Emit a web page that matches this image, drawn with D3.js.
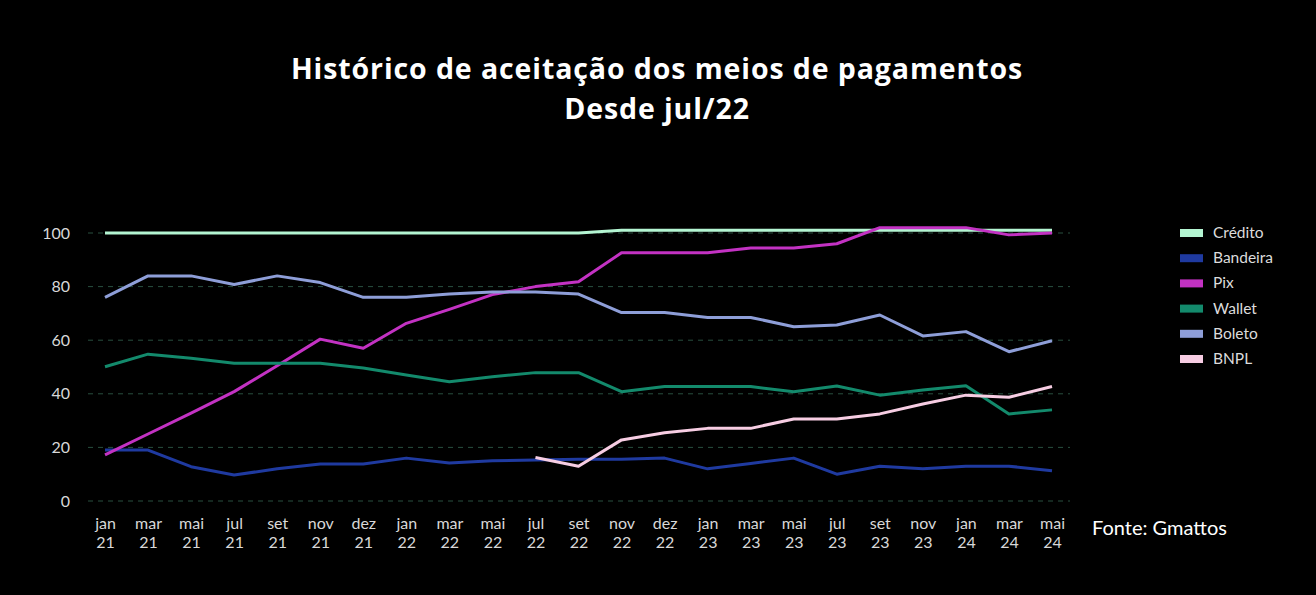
<!DOCTYPE html>
<html>
<head>
<meta charset="utf-8">
<script src="https://cdn.jsdelivr.net/npm/d3@7"></script>
<style>
  body { margin: 0; background: #000; }
  svg { display: block; }
</style>
</head>
<body>
<div id="chart"></div>
<script>
// Data
let months = ['jan', 'mar', 'mai', 'jul', 'set', 'nov', 'dez', 'jan', 'mar', 'mai', 'jul', 'set',
    'nov', 'dez', 'jan', 'mar', 'mai', 'jul', 'set', 'nov', 'jan', 'mar', 'mai'];
let years = ['21', '21', '21', '21', '21', '21', '21', '22', '22', '22', '22', '22',
    '22', '22', '23', '23', '23', '23', '23', '23', '24', '24', '24'];

let credito = [100, 100, 100, 100, 100, 100, 100, 100, 100, 100, 100, 100,
    101, 101, 101, 101, 101, 101, 101, 101, 101, 101, 101];
let bandeira = [19, 19, 12.8, 9.7, 12, 13.8, 13.8, 16, 14.2, 15, 15.3, 15.6,
    15.6, 16, 12, 14, 16, 10, 13, 12, 13, 13, 11.3];
let pix = [17.2, 25, 32.8, 40.8, 50.5, 60.4, 57, 66.3, 71.5, 77, 80, 81.8,
    92.6, 92.6, 92.6, 94.4, 94.4, 96, 102, 102, 102, 99.3, 100];
let wallet = [50.1, 54.8, 53.3, 51.4, 51.4, 51.4, 49.6, 47, 44.5, 46.4, 47.9, 47.9,
    40.8, 42.7, 42.7, 42.7, 40.8, 42.9, 39.5, 41.4, 43, 32.5, 34];
let boleto = [76, 84, 84, 80.8, 84, 81.5, 76, 76, 77.2, 78, 78, 77.2,
    70.3, 70.3, 68.5, 68.5, 65, 65.7, 69.4, 61.6, 63.2, 55.7, 59.8];
let bnpl = [null, null, null, null, null, null, null, null, null, null, 16.2, 13,
    22.8, 25.5, 27.1, 27.1, 30.6, 30.6, 32.5, 36.2, 39.5, 38.7, 42.7];

let yTicks = [0, 20, 40, 60, 80, 100];

let series = [
    { name: 'Crédito', values: credito, color: '#b4f5d2' },
    { name: 'Bandeira', values: bandeira, color: '#1f3aa0' },
    { name: 'Pix', values: pix, color: '#c332c3' },
    { name: 'Wallet', values: wallet, color: '#138a6c' },
    { name: 'Boleto', values: boleto, color: '#8e9ed8' },
    { name: 'BNPL', values: bnpl, color: '#f7cde3' }
];

// Set dimensions
let width = 1316,
    height = 595;

let svg = d3.select('#chart')
    .append('svg')
    .attr('width', width)
    .attr('height', height)
    .style('background', '#000');

// Scales
let idx = d3.range(months.length);
let x = d3.scalePoint().domain(idx).range([105, 1052]);
let y = d3.scaleLinear().domain([0, 100]).range([501, 233]);

// Title
let titleFont = '"Open Sans", sans-serif';
svg.append('text')
    .attr('x', 657).attr('y', 79)
    .attr('text-anchor', 'middle')
    .attr('fill', '#fff')
    .style('font-family', titleFont)
    .style('font-weight', 'bold')
    .style('font-size', '28.5px')
    .style('letter-spacing', '0.9px')
    .text('Histórico de aceitação dos meios de pagamentos');
svg.append('text')
    .attr('x', 657).attr('y', 119)
    .attr('text-anchor', 'middle')
    .attr('fill', '#fff')
    .style('font-family', titleFont)
    .style('font-weight', 'bold')
    .style('font-size', '28.5px')
    .style('letter-spacing', '0.9px')
    .text('Desde jul/22');

// Grid lines
svg.append('g')
    .selectAll('line')
    .data(yTicks)
    .join('line')
    .attr('x1', 88).attr('x2', 1070)
    .attr('y1', d => y(d)).attr('y2', d => y(d))
    .attr('stroke', '#284f3f')
    .attr('stroke-width', 1)
    .attr('stroke-dasharray', '5,5');

// Y axis
let yAxis = svg.append('g')
    .attr('transform', 'translate(70,0)')
    .call(d3.axisLeft(y).tickValues(yTicks).tickSize(0).tickPadding(0));
yAxis.select('.domain').remove();
yAxis.selectAll('text')
    .attr('fill', '#d8d8d8')
    .style('font-family', 'Lato, sans-serif')
    .style('font-size', '16px');

// X axis with two-line labels
let xAxis = svg.append('g')
    .attr('transform', 'translate(0,501)')
    .call(d3.axisBottom(x).tickSize(0).tickFormat(''));
xAxis.select('.domain').remove();
xAxis.selectAll('.tick').each(function (d) {
    let t = d3.select(this).append('text')
        .attr('fill', '#d8d8d8')
        .attr('text-anchor', 'middle')
        .style('font-family', 'Lato, sans-serif')
        .style('font-size', '16px');
    t.append('tspan').attr('x', 0).attr('y', 28).text(months[d]);
    t.append('tspan').attr('x', 0).attr('y', 47).text(years[d]);
});

// Lines
let line = d3.line()
    .defined(d => d != null)
    .x((d, i) => x(i))
    .y(d => y(d));

svg.append('g')
    .selectAll('path')
    .data(series)
    .join('path')
    .attr('fill', 'none')
    .attr('stroke', d => d.color)
    .attr('stroke-width', 3)
    .attr('stroke-linejoin', 'round')
    .attr('d', d => line(d.values));

// Legend
let legend = svg.append('g')
    .selectAll('g')
    .data(series)
    .join('g')
    .attr('transform', (d, i) => 'translate(1180,' + (233 + i * 25.2) + ')');
legend.append('rect')
    .attr('x', 0).attr('y', -4)
    .attr('width', 23).attr('height', 8)
    .attr('fill', d => d.color);
legend.append('text')
    .attr('x', 33).attr('y', 5)
    .attr('fill', '#dcdcdc')
    .style('font-family', 'Lato, sans-serif')
    .style('font-size', '15.5px')
    .text(d => d.name);

// Source
svg.append('text')
    .attr('x', 1092).attr('y', 535)
    .attr('fill', '#fff')
    .style('font-family', 'Lato, sans-serif')
    .style('font-size', '20px')
    .text('Fonte: Gmattos');
</script>
</body>
</html>
